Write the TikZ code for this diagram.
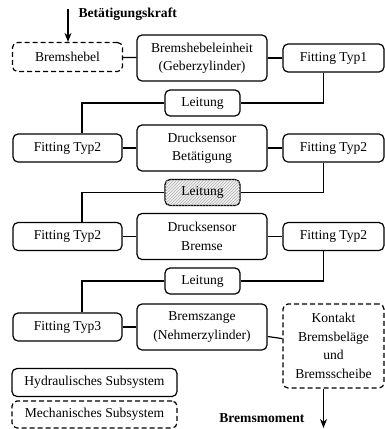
\documentclass[tikz,border=0pt]{standalone}
\usepackage{fontspec}
\setmainfont{Liberation Serif}
\usetikzlibrary{arrows.meta,patterns}

\begin{document}
\begin{tikzpicture}[x=1pt, y=-1pt, line width=1.2pt,
    every node/.style={font=\fontsize{13.6}{18.5}\selectfont, align=center, inner sep=0pt},
    hyd/.style={draw, rounded corners=5pt, fill=white},
    mech/.style={hyd, dash pattern=on 5pt off 3pt},
    label/.style={font=\fontsize{13.6}{16}\selectfont\bfseries}]
    \useasboundingbox (0,0) rectangle (385,429);

    % Row 1: lever unit
    \node[mech, minimum width=110pt, minimum height=29pt] (hebel) at (67.5,57) {Bremshebel};
    \node[hyd, minimum width=130pt, minimum height=46pt] (geber) at (202,58) {Bremshebeleinheit\\(Geberzylinder)};
    \node[hyd, minimum width=101pt, minimum height=28pt] (FR0) at (333.5,58) {Fitting Typ1};

    % Row 2: pressure sensor actuation
    \node[hyd, minimum width=109pt, minimum height=28pt] (FL1) at (67.5,148) {Fitting Typ2};
    \node[hyd, minimum width=130pt, minimum height=46pt] (DS1) at (202,148) {Drucksensor\\Betätigung};
    \node[hyd, minimum width=101pt, minimum height=28pt] (FR1) at (333.5,148) {Fitting Typ2};

    % Row 3: pressure sensor brake
    \node[hyd, minimum width=109pt, minimum height=28pt] (FL2) at (67.5,236.5) {Fitting Typ2};
    \node[hyd, minimum width=130pt, minimum height=46pt] (DS2) at (202,236.5) {Drucksensor\\Bremse};
    \node[hyd, minimum width=101pt, minimum height=28pt] (FR2) at (333.5,236.5) {Fitting Typ2};

    % Row 4: caliper
    \node[hyd, minimum width=109pt, minimum height=28pt] (FL3) at (67.5,327) {Fitting Typ3};
    \node[hyd, minimum width=130pt, minimum height=46pt] (zange) at (202,327) {Bremszange\\(Nehmerzylinder)};
    \node[mech, minimum width=101pt, minimum height=84pt] (kontakt) at (333.5,346) {Kontakt\\Bremsbeläge\\und\\Bremsscheibe};

    % Lines
    \node[hyd, minimum width=75pt, minimum height=26pt] (L1) at (202.5,103) {Leitung};
    \node[hyd, minimum width=75pt, minimum height=26pt, fill=gray!12,
          postaction={pattern=north east lines, pattern color=gray!60}] (L2) at (202.5,192.5) {Leitung};
    \node[hyd, minimum width=75pt, minimum height=26pt] (L3) at (202.5,281) {Leitung};

    % Legend
    \node[hyd, minimum width=165pt, minimum height=28pt] (leghyd) at (94.5,382.5) {Hydraulisches Subsystem};
    \node[mech, minimum width=165pt, minimum height=27pt] (legmech) at (94.5,414.5) {Mechanisches Subsystem};

    % Horizontal connections
    \draw (hebel) -- (geber);
    \draw (geber) -- (FR0);
    \foreach \i in {1,2} {
        \draw (FL\i) -- (DS\i);
        \draw (DS\i) -- (FR\i);
    }
    \draw (FL3) -- (zange);
    \draw (zange) -- (kontakt);

    % Connect right fittings via lines to next row
    \foreach \a/\b in {0/1,1/2,2/3} {
        \draw ([xshift=-10pt]FR\a.south) |- (L\b.east);
        \draw (L\b.west) -| ([xshift=14.5pt]FL\b.north);
    }

    % Input and output
    \coordinate (kraft) at (68,9);
    \draw[-{Stealth[length=9pt,width=7pt]}] (kraft) -- (kraft |- hebel.north);
    \node[label, anchor=west] (kraftlabel) at (78,14) {Betätigungskraft};
    \coordinate (moment) at (323.5,428);
    \draw[-{Stealth[length=9pt,width=7pt]}] (moment |- kontakt.south) -- (moment);
    \node[label, anchor=east] (momentlabel) at (305,418) {Bremsmoment};
\end{tikzpicture}
\end{document}
